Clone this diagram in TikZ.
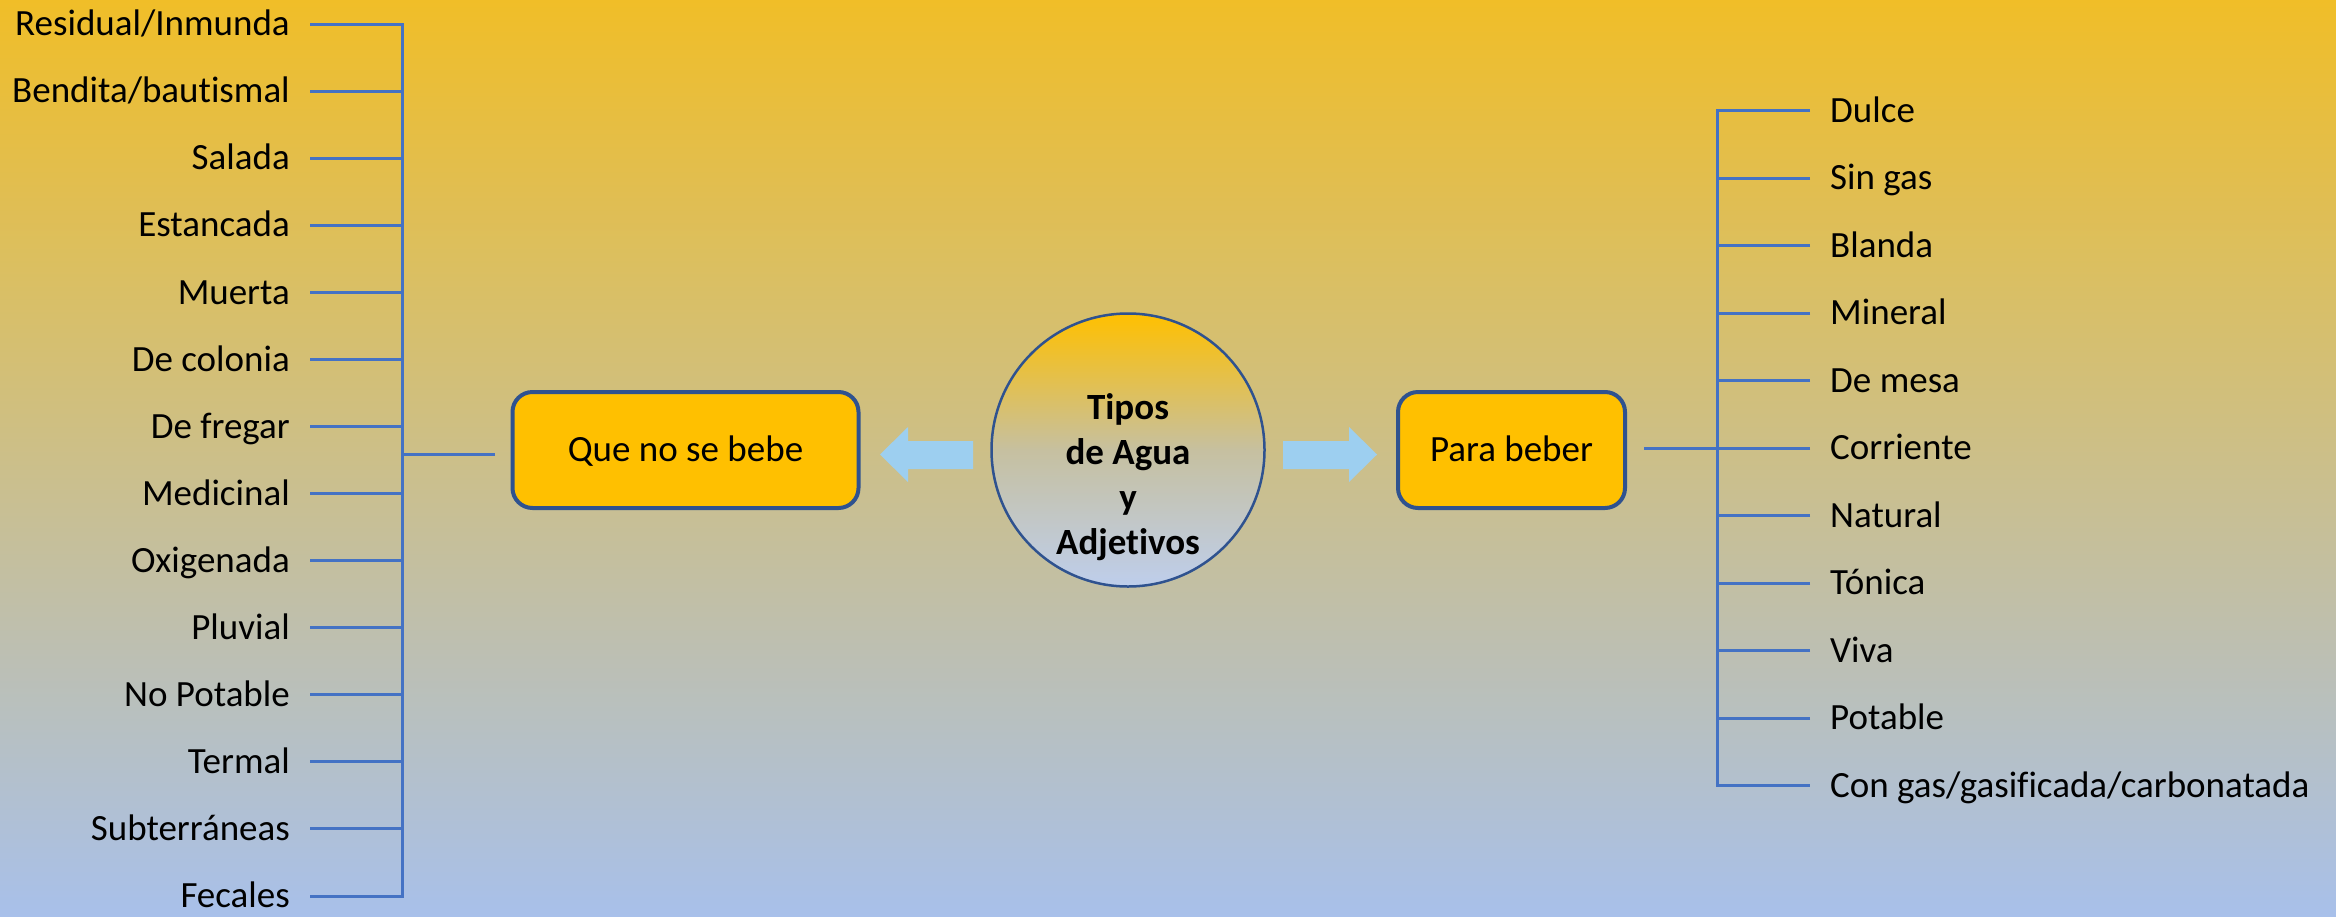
\documentclass[tikz,border=0pt]{standalone}
\usepackage{fontspec}
\setmainfont{Carlito}[Ligatures=NoCommon]
\definecolor{bgtop}{RGB}{240,190,40}
\definecolor{bgbot}{RGB}{168,192,234}
\definecolor{conn}{RGB}{68,114,196}
\definecolor{boxedge}{RGB}{47,82,143}
\definecolor{boxfill}{RGB}{255,192,0}
\definecolor{arrowblue}{RGB}{157,207,240}
\definecolor{circtop}{RGB}{255,192,0}
\definecolor{circmid}{RGB}{198,192,160}
\definecolor{circbot}{RGB}{190,206,236}
\tikzset{
  connline/.style={draw=conn, line width=3pt},
  itemtext/.style={font=\fontsize{37}{44}\selectfont, inner xsep=20pt, inner ysep=0pt, text height=23.5pt, text depth=0pt},
  mainbox/.style={draw=boxedge, line width=4pt, fill=boxfill, rounded corners=20pt, font=\fontsize{37}{44}\selectfont, text height=23.5pt, text depth=0pt, minimum height=116pt},
  centretext/.style={font=\fontsize{37}{45}\selectfont\bfseries, inner sep=0pt},
  blockarrow/.style={fill=arrowblue, draw=none}
}
\begin{document}
\begin{tikzpicture}[x=1pt,y=-1pt]
\fill[top color=bgtop, bottom color=bgbot] (0,0) rectangle (2336,916);
\useasboundingbox (0,0) rectangle (2336,916);

% left list
\foreach \t [count=\i] in {Residual/Inmunda,Bendita/bautismal,Salada,Estancada,Muerta,De colonia,De fregar,Medicinal,Oxigenada,Pluvial,No Potable,Termal,Subterráneas,Fecales}{
  \pgfmathsetmacro\yy{24+(\i-1)*67.08}
  \node[itemtext, anchor=east] (l\i) at (310,\yy) {\t};
  \coordinate (lv\i) at (402,\yy);
}
\draw[connline] (l1.east) -- (lv1) -- (lv14) -- (l14.east);
\foreach \i in {2,...,13}{ \draw[connline] (l\i.east) -- (lv\i); }

% right list
\foreach \t [count=\i] in {Dulce,Sin gas,Blanda,Mineral,De mesa,Corriente,Natural,Tónica,Viva,Potable,Con gas/gasificada/carbonatada}{
  \pgfmathsetmacro\yy{110.5+(\i-1)*67.5}
  \node[itemtext, anchor=west] (r\i) at (1810,\yy) {\t};
  \coordinate (rv\i) at (1717,\yy);
}
\draw[connline] (r1.west) -- (rv1) -- (rv11) -- (r11.west);
\foreach \i in {2,...,10}{ \draw[connline] (r\i.west) -- (rv\i); }

% boxes
\node[mainbox, minimum width=346pt] (lbox) at (685.5,450) {Que no se bebe};
\node[mainbox, minimum width=227pt] (rbox) at (1511.5,450) {Para beber};

% stubs to boxes
\coordinate (lj) at (402,454);
\coordinate (ljend) at (495,454);
\draw[connline] (lj) -- (ljend);
\coordinate (rj) at (1717,448);
\coordinate (rjend) at (1644,448);
\draw[connline] (rj) -- (rjend);

% centre circle
\node[circle, draw=boxedge, line width=2.5pt, minimum size=273pt, inner sep=0pt,
      top color=circtop, bottom color=circbot, middle color=circmid] (c) at (1128,450) {};
\node[centretext, anchor=base] (t1) at (1128,419) {Tipos};
\node[centretext, anchor=base] (t2) at (1128,464) {de Agua};
\node[centretext, anchor=base] (t3) at (1128,509) {y};
\node[centretext, anchor=base] (t4) at (1128,554) {Adjetivos};

% block arrows
\fill[blockarrow] (973,441) -- (908,441) -- (908,427) -- (880,454.5) -- (908,482) -- (908,469) -- (973,469) -- cycle;
\fill[blockarrow] (1283,441) -- (1349,441) -- (1349,427) -- (1377,454.5) -- (1349,482) -- (1349,469) -- (1283,469) -- cycle;
\end{tikzpicture}
\end{document}
